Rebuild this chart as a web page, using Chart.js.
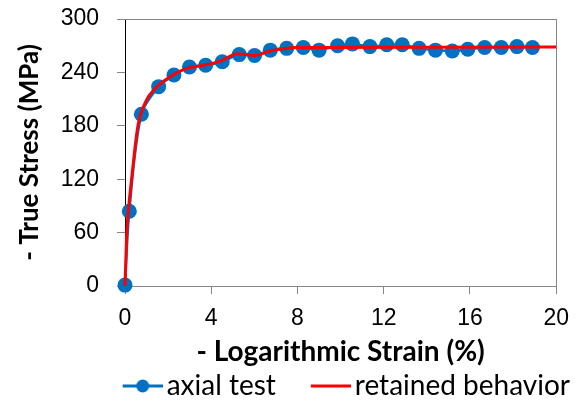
<!DOCTYPE html>
<html>
<head>
<meta charset="utf-8">
<script src="https://cdn.jsdelivr.net/npm/chart.js@4"></script>
<style>
  body { margin: 0; background: #fff; }
  canvas { display: block; }
</style>
</head>
<body>
<canvas id="myChart" width="580" height="405"></canvas>
<script>
// axial test points
const strainAxial = [0, 0.2, 0.76, 1.56, 2.27, 2.99, 3.74, 4.51, 5.3, 6.01, 6.74, 7.5, 8.27, 9.0, 9.86, 10.55, 11.36, 12.14, 12.86, 13.64, 14.4, 15.18, 15.9, 16.68, 17.45, 18.18, 18.9];
const stressAxial = [1, 84, 193, 224, 237, 246, 248, 252, 260, 259, 265, 267, 268, 265, 270, 272, 269, 271, 271, 267, 265, 264, 266, 268, 268, 269, 268];

// retained behavior curve
const strainRetained = [0, 0.08, 0.15, 0.3, 0.6, 0.98, 1.4, 1.9, 2.8, 3.86, 4.45, 5.23, 6.0, 6.73, 7.95, 20];
const stressRetained = [0, 59, 83, 119, 180, 208, 222, 232, 244, 249, 253, 261, 259, 264, 268, 268.5];

const seriesNames = ["axial test", "retained behavior"];
const xTicks = [0, 4, 8, 12, 16, 20];
const yTicks = [0, 60, 120, 180, 240, 300];

const blue = "#0070C0";
const red = "#FF0000";
const gray = "#868686";

function toPoints(xs, ys) {
  let pts = [];
  for (let i = 0; i < xs.length; i++) {
    pts.push({ x: xs[i], y: ys[i] });
  }
  return pts;
}

// legend symbols: line (with dot for the test series), drawn in the right part of the image
function makeSymbol(color, withDot) {
  let c = document.createElement("canvas");
  c.width = 75;
  c.height = 16;
  let g = c.getContext("2d");
  g.strokeStyle = color;
  g.lineWidth = 3;
  g.beginPath();
  g.moveTo(35, 8);
  g.lineTo(75, 8);
  g.stroke();
  if (withDot) {
    g.fillStyle = color;
    g.beginPath();
    g.arc(55, 8, 6.5, 0, Math.PI * 2);
    g.fill();
  }
  return c;
}
const symbols = [makeSymbol(blue, true), makeSymbol(red, false)];

const tickFont = { family: "'Liberation Sans', Arial, sans-serif", size: 23 };

let ctx = document.getElementById("myChart").getContext("2d");
let chart = new Chart(ctx, {
  type: "line",
  data: {
    datasets: [
      {
        label: seriesNames[0],
        data: toPoints(strainAxial, stressAxial),
        borderColor: blue,
        backgroundColor: blue,
        borderWidth: 2.5,
        pointRadius: 7.5,
        pointBorderWidth: 0,
        tension: 0.3,
        clip: false,
        order: 1
      },
      {
        label: seriesNames[1],
        data: toPoints(strainRetained, stressRetained),
        borderColor: red,
        backgroundColor: red,
        borderWidth: 3,
        pointRadius: 0,
        cubicInterpolationMode: "monotone",
        clip: false,
        order: 0
      }
    ]
  },
  options: {
    responsive: false,
    animation: false,
    layout: { padding: { top: 19, right: 0, left: 0, bottom: -5 } },
    plugins: {
      tooltip: { enabled: false },
      legend: {
        position: "bottom",
        align: "end",
        labels: {
          usePointStyle: true,
          pointStyleWidth: 55,
          padding: 10,
          color: "#000",
          font: { family: "Lato, 'Open Sans', sans-serif", size: 28 },
          sort: (a, b) => a.datasetIndex - b.datasetIndex,
          generateLabels: function (chart) {
            let items = Chart.defaults.plugins.legend.labels.generateLabels(chart);
            items.forEach(item => {
              item.pointStyle = symbols[item.datasetIndex];
            });
            return items;
          }
        }
      }
    },
    scales: {
      x: {
        type: "linear",
        position: "bottom",
        min: 0,
        max: 20,
        afterBuildTicks: scale => {
          scale.ticks = xTicks.map(v => ({ value: v }));
        },
        afterFit: scale => {
          scale.height = 76;
        },
        ticks: { font: tickFont, color: "#000", padding: 11, maxRotation: 0 },
        grid: { drawOnChartArea: false, tickLength: 8, color: gray },
        border: { color: gray, width: 1 },
        title: {
          display: true,
          text: "- Logarithmic Strain (%)",
          font: { family: "Lato, 'Open Sans', sans-serif", size: 28, weight: "bold" },
          color: "#000",
          padding: { top: 0, bottom: -7 }
        }
      },
      y: {
        type: "linear",
        position: "left",
        min: 0,
        max: 300,
        afterBuildTicks: scale => {
          scale.ticks = yTicks.map(v => ({ value: v }));
        },
        afterFit: scale => {
          scale.width = 125;
          scale.paddingTop = 0;
          scale.paddingBottom = 0;
        },
        ticks: { font: tickFont, color: "#000", padding: 18 },
        grid: { drawOnChartArea: false, tickLength: 8, color: gray },
        border: { color: "#000", width: 1 },
        title: {
          display: true,
          text: "- True Stress (MPa)",
          font: { family: "Lato, 'Open Sans', sans-serif", size: 26, weight: "bold" },
          color: "#000",
          padding: { top: 14, bottom: 0 }
        }
      },
      xTop: {
        type: "linear",
        position: "top",
        min: 0,
        max: 20,
        ticks: { display: false },
        grid: { display: false },
        border: { color: gray, width: 1 },
        afterFit: scale => {
          scale.height = 0;
        }
      },
      yRight: {
        type: "linear",
        position: "right",
        min: 0,
        max: 300,
        ticks: { display: false },
        grid: { display: false },
        border: { color: gray, width: 1 },
        afterFit: scale => {
          scale.width = 16;
        }
      }
    }
  }
});
</script>
</body>
</html>
